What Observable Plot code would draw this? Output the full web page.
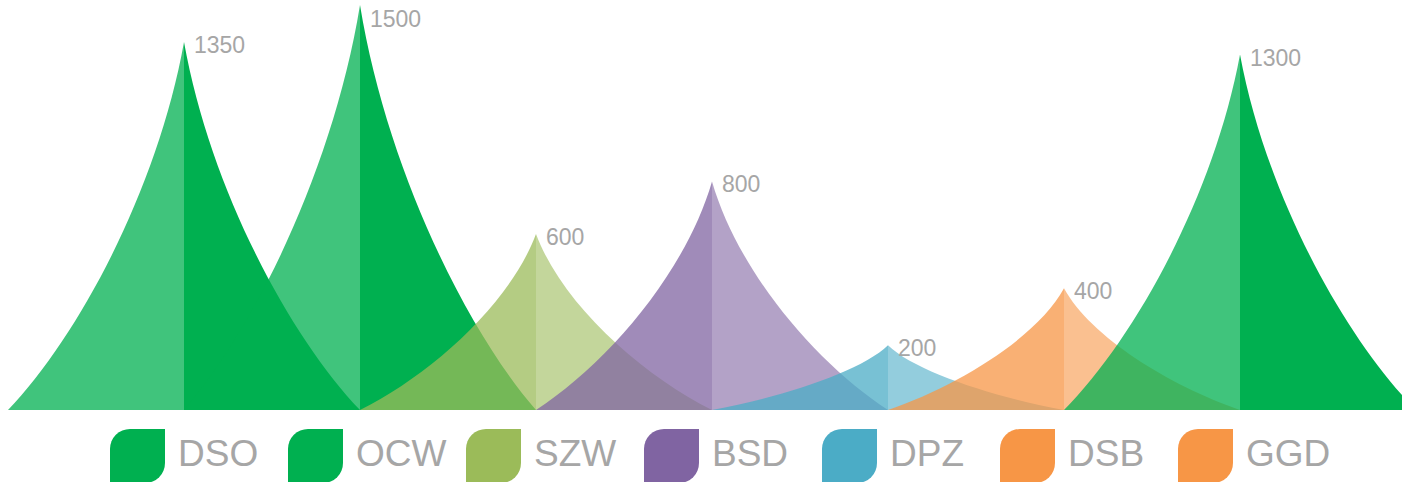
<!DOCTYPE html>
<html><head><meta charset="utf-8">
<script src="https://cdn.jsdelivr.net/npm/d3@7"></script>
<script src="https://cdn.jsdelivr.net/npm/@observablehq/plot@0.6"></script>
<style>
html,body{margin:0;padding:0;background:#fff;overflow:hidden;}
#chart svg{display:block;}
.legend{position:relative;width:1402px;height:64px;font-family:"Liberation Sans",Arial,sans-serif;}
.item{position:absolute;top:0;display:flex;align-items:flex-start;}
.sw{width:55px;height:54px;margin-top:11px;border-radius:20px 0 20px 0;}
.lab{margin-left:13px;margin-top:18px;font-size:37px;line-height:36px;color:#A6A6A6;white-space:nowrap;}
</style></head><body>
<div id="chart"></div><div class="legend" id="legend"></div>
<script>
// Data
const categories = ["DSO","OCW","SZW","BSD","DPZ","DSB","GGD"];
const values = [1350,1500,600,800,200,400,1300];
const legendLabels = ["DSO","OCW","SZW","BSD","DPZ","DSB","GGD"];
// Styles
const spikeColors = ["#00B050","#00B050","#9BBB59","#8064A2","#4BACC6","#F79646","#00B050"];
const legendColors = ["#00B050","#00B050","#9BBB59","#8064A2","#4BACC6","#F79646","#F79646"];

const data = categories.map((c, i) => ({category: c, value: values[i]}));

function spikes(index, scales) {
  const x = scales.x, y = scales.y;
  const step = x(categories[1]) - x(categories[0]);
  const y0 = y(0);
  const g = d3.create("svg:g");
  categories.forEach((c, i) => {
    const cx = x(c), ty = y(values[i]), H = y0 - ty;
    for (const s of [-1, 1]) {
      const P = (u, v) => [cx + s * u * step, y0 - v * H];
      const p = d3.path();
      p.moveTo(cx, y0);
      p.lineTo(...P(1, 0));
      p.bezierCurveTo(...P(0.6, 0.2), ...P(0.15, 0.6), cx, ty);
      p.closePath();
      const solid = spikeColors[i] === "#00B050";
      g.append("path")
        .attr("d", p.toString())
        .attr("fill", spikeColors[i])
        .attr("fill-opacity", s < 0 ? 0.75 : (solid ? 1 : 0.6));
    }
  });
  // value labels, kept inside the frame
  categories.forEach((c, i) => {
    const cx = x(c), ty = y(values[i]);
    g.append("text")
      .attr("x", cx + 10)
      .attr("y", Math.max(ty + 3, 18.5))
      .attr("dy", "0.35em")
      .attr("fill", "#A6A6A6")
      .attr("font-size", 23)
      .attr("text-anchor", "start")
      .text(String(values[i]));
  });
  return g.node();
}

const chart = Plot.plot({
  width: 1402, height: 418, margin: 0,
  style: {fontFamily: "Liberation Sans, Arial, sans-serif", overflow: "hidden", background: "#fff"},
  x: {type: "point", domain: categories, range: [184.4, 1240.4], padding: 0, axis: null},
  y: {type: "pow", exponent: 0.91, domain: [0, 1500], range: [410, 5], axis: null},
  marks: [
    Plot.dot(data, {x: "category", y: "value", r: 0}),
    spikes
  ]
});
document.getElementById("chart").appendChild(chart);

const legend = d3.select("#legend");
legendLabels.forEach((l, i) => {
  const item = legend.append("div").attr("class", "item").style("left", (110 + i * 178) + "px");
  item.append("div").attr("class", "sw").style("background", legendColors[i]);
  item.append("div").attr("class", "lab").text(l);
});
</script>
</body></html>
